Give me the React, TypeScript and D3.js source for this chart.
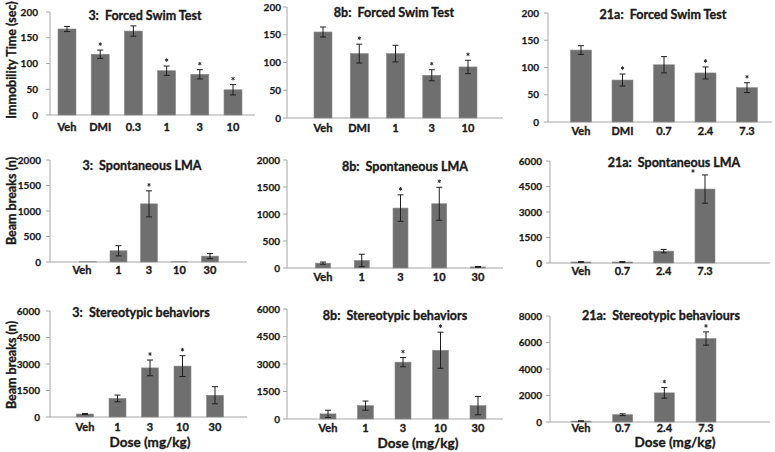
import React from "react";
import * as d3 from "d3";

// ---------- DATA ----------
const fst3Cats = ["Veh", "DMI", "0.3", "1", "3", "10"];
const fst3Vals = [167, 118, 163, 86, 79, 49];
const fst3Errs = [5, 8, 10, 9, 9, 10];
const fst3Stars = [false, true, false, true, true, true];
const fst3Ticks = [0, 50, 100, 150, 200];

const fst8bCats = ["Veh", "DMI", "1", "3", "10"];
const fst8bVals = [155, 116, 116, 77, 92];
const fst8bErrs = [9, 17, 15, 10, 12];
const fst8bStars = [false, true, false, true, true];
const fst8bTicks = [0, 50, 100, 150, 200];

const fst21aCats = ["Veh", "DMI", "0.7", "2.4", "7.3"];
const fst21aVals = [132, 77, 105, 90, 63];
const fst21aErrs = [8, 11, 15, 11, 9];
const fst21aStars = [false, true, false, true, true];
const fst21aTicks = [0, 50, 100, 150, 200];

const lma3Cats = ["Veh", "1", "3", "10", "30"];
const lma3Vals = [5, 220, 1140, 5, 115];
const lma3Errs = [0, 100, 255, 0, 50];
const lma3Stars = [false, false, true, false, false];
const lma3Ticks = [0, 500, 1000, 1500, 2000];

const lma8bCats = ["Veh", "1", "3", "10", "30"];
const lma8bVals = [90, 140, 1110, 1190, 20];
const lma8bErrs = [20, 115, 245, 305, 8];
const lma8bStars = [false, false, true, true, false];
const lma8bTicks = [0, 500, 1000, 1500, 2000];

const lma21aCats = ["Veh", "0.7", "2.4", "7.3"];
const lma21aVals = [60, 60, 700, 4350];
const lma21aErrs = [20, 20, 100, 830];
const lma21aStars = [false, false, false, true];
const lma21aTicks = [0, 1500, 3000, 4500, 6000];

const st3Cats = ["Veh", "1", "3", "10", "30"];
const st3Vals = [170, 1050, 2780, 2880, 1230];
const st3Errs = [30, 190, 445, 590, 485];
const st3Stars = [false, false, true, true, false];
const st3Ticks = [0, 1500, 3000, 4500, 6000];

const st8bCats = ["Veh", "1", "3", "10", "30"];
const st8bVals = [280, 730, 3100, 3750, 730];
const st8bErrs = [200, 250, 250, 985, 500];
const st8bStars = [false, false, true, true, false];
const st8bTicks = [0, 1500, 3000, 4500, 6000];

const st21aCats = ["Veh", "0.7", "2.4", "7.3"];
const st21aVals = [70, 550, 2200, 6300];
const st21aErrs = [20, 70, 400, 500];
const st21aStars = [false, false, true, true];
const st21aTicks = [0, 2000, 4000, 6000, 8000];

const titles = [
  "3:  Forced Swim Test",
  "8b:  Forced Swim Test",
  "21a:  Forced Swim Test",
  "3:  Spontaneous LMA",
  "8b:  Spontaneous LMA",
  "21a:  Spontaneous LMA",
  "3:  Stereotypic behaviors",
  "8b:  Stereotypic behaviors",
  "21a:  Stereotypic behaviours",
];
const yTitles = ["Immobility Time (sec)", "Beam breaks (n)", "Beam breaks (n)"];
const xTitle = "Dose (mg/kg)";

const series = [
  { cats: fst3Cats, vals: fst3Vals, errs: fst3Errs, stars: fst3Stars, ticks: fst3Ticks },
  { cats: fst8bCats, vals: fst8bVals, errs: fst8bErrs, stars: fst8bStars, ticks: fst8bTicks },
  { cats: fst21aCats, vals: fst21aVals, errs: fst21aErrs, stars: fst21aStars, ticks: fst21aTicks },
  { cats: lma3Cats, vals: lma3Vals, errs: lma3Errs, stars: lma3Stars, ticks: lma3Ticks },
  { cats: lma8bCats, vals: lma8bVals, errs: lma8bErrs, stars: lma8bStars, ticks: lma8bTicks },
  { cats: lma21aCats, vals: lma21aVals, errs: lma21aErrs, stars: lma21aStars, ticks: lma21aTicks },
  { cats: st3Cats, vals: st3Vals, errs: st3Errs, stars: st3Stars, ticks: st3Ticks },
  { cats: st8bCats, vals: st8bVals, errs: st8bErrs, stars: st8bStars, ticks: st8bTicks },
  { cats: st21aCats, vals: st21aVals, errs: st21aErrs, stars: st21aStars, ticks: st21aTicks },
];

// ---------- LAYOUT ----------
// ax: y-axis x, xr: x-axis right end, yt/yb: top/bottom of y range,
// c0/c1: first/last category centre, bw: bar width, tg: tick label gap,
// ld: x label baseline offset, tx/ty: title centre/baseline, sdx/sdy: last star offset,
// vdx: first label shift
const layouts = [
  { ax: 50, xr: 255, yt: 12, yb: 115, c0: 67, c1: 233, bw: 18, tg: 12, ld: 16, tx: 145, ty: 20, sdx: 0, sdy: 0, vdx: 0 },
  { ax: 287, xr: 503, yt: 7, yb: 118, c0: 323, c1: 468, bw: 18, tg: 6, ld: 14, tx: 394, ty: 17, sdx: 0, sdy: 0, vdx: 0 },
  { ax: 548, xr: 772, yt: 13, yb: 122, c0: 581, c1: 747, bw: 21, tg: 9, ld: 13, tx: 663, ty: 19, sdx: 0, sdy: 0, vdx: 0 },
  { ax: 50, xr: 247, yt: 160, yb: 262, c0: 88, c1: 210, bw: 17, tg: 9, ld: 12, tx: 142, ty: 170, sdx: 0, sdy: 0, vdx: -6 },
  { ax: 287, xr: 503, yt: 160, yb: 268, c0: 323, c1: 478, bw: 15, tg: 7, ld: 13, tx: 405, ty: 171, sdx: 0, sdy: 0, vdx: 0 },
  { ax: 550, xr: 770, yt: 161, yb: 263, c0: 581, c1: 705, bw: 20, tg: 8, ld: 12, tx: 674, ty: 167, sdx: -12, sdy: 2, vdx: 0 },
  { ax: 50, xr: 247, yt: 311, yb: 417, c0: 85, c1: 215, bw: 17, tg: 10, ld: 14, tx: 141, ty: 317, sdx: 0, sdy: 0, vdx: 0 },
  { ax: 287, xr: 503, yt: 309, yb: 419, c0: 328, c1: 478, bw: 16, tg: 7, ld: 13, tx: 395, ty: 320, sdx: 0, sdy: 0, vdx: 0 },
  { ax: 550, xr: 770, yt: 316, yb: 422, c0: 581, c1: 706, bw: 20, tg: 8, ld: 10, tx: 661, ty: 320, sdx: 0, sdy: 0, vdx: 0 },
];
const yTitlePos = [
  { x: 16, y: 60 },
  { x: 16, y: 201 },
  { x: 16, y: 365 },
];
const xTitlePos = [
  { x: 150, y: 447 },
  { x: 418, y: 448 },
  { x: 675, y: 447 },
];

const FONT = "Lato, 'Open Sans', sans-serif";
const BAR = "#6f6f6f";
const AXIS = "#a6a6a6";
const TXT = "#1a1a1a";
const heavy = { stroke: TXT, strokeWidth: 0.35, whiteSpace: "pre" as const };
const starPath = d3.symbol(d3.symbolAsterisk, 9)() as string;

function Panel({ s, l, title }: any) {
  const y = d3.scaleLinear().domain([0, d3.max(s.ticks) as number]).range([l.yb, l.yt]);
  const x = d3.scalePoint<string>().domain(s.cats).range([l.c0, l.c1]);
  return (
    <g>
      <line x1={l.ax} x2={l.ax} y1={l.yt} y2={l.yb} stroke={AXIS} strokeWidth={1} />
      <line x1={l.ax} x2={l.xr} y1={l.yb} y2={l.yb} stroke={AXIS} strokeWidth={1} />
      {s.ticks.map((t: number) => (
        <g key={t}>
          <line x1={l.ax - 4} x2={l.ax} y1={y(t)} y2={y(t)} stroke={AXIS} />
          <text x={l.ax - l.tg} y={y(t)} dy="0.35em" textAnchor="end" fontSize={10} fontWeight="bold" fill={TXT} fontFamily={FONT} style={{ stroke: TXT, strokeWidth: 0.25 }}>
            {t}
          </text>
        </g>
      ))}
      {s.cats.map((c: string, i: number) => {
        const cx = x(c) as number;
        const v = s.vals[i];
        const e = s.errs[i];
        const top = y(v + e);
        const last = i === s.cats.length - 1;
        return (
          <g key={c}>
            <rect x={cx - l.bw / 2} y={y(v)} width={l.bw} height={l.yb - y(v)} fill={BAR} stroke="#8c8c8c" strokeWidth={0.6} />
            {e > 0 && (
              <g stroke="#1e1e1e" strokeWidth={1}>
                <line x1={cx} x2={cx} y1={y(v - e)} y2={top} />
                <line x1={cx - 3} x2={cx + 3} y1={top} y2={top} />
                <line x1={cx - 3} x2={cx + 3} y1={y(v - e)} y2={y(v - e)} />
              </g>
            )}
            {s.stars[i] && (
              <path
                d={starPath}
                transform={`translate(${cx + (last ? l.sdx : 0)},${top - 6 + (last ? l.sdy : 0)})`}
                fill="none"
                stroke="#333"
                strokeWidth={1}
              />
            )}
            <text x={cx + (i === 0 ? l.vdx : 0)} y={l.yb + l.ld} textAnchor="middle" fontSize={11} fontWeight="bold" fill={TXT} fontFamily={FONT} style={heavy}>
              {c}
            </text>
          </g>
        );
      })}
      <text x={l.tx} y={l.ty} textAnchor="middle" fontSize={12.5} fontWeight="bold" fill={TXT} fontFamily={FONT} style={heavy}>
        {title}
      </text>
    </g>
  );
}

export default function App() {
  return (
    <svg width={775} height={452} style={{ position: "absolute", left: 0, top: 0, background: "#fff" }}>
      <rect width={775} height={452} fill="#fff" />
      {series.map((s, i) => (
        <Panel key={i} s={s} l={layouts[i]} title={titles[i]} />
      ))}
      {yTitles.map((t, i) => (
        <text
          key={i}
          transform={`translate(${yTitlePos[i].x},${yTitlePos[i].y}) rotate(-90)`}
          textAnchor="middle"
          fontSize={12.5}
          fontWeight="bold"
          fill={TXT}
          fontFamily={FONT}
          style={heavy}
        >
          {t}
        </text>
      ))}
      {xTitlePos.map((p, i) => (
        <text key={i} x={p.x} y={p.y} textAnchor="middle" fontSize={13.5} fontWeight="bold" fill={TXT} fontFamily={FONT} style={heavy}>
          {xTitle}
        </text>
      ))}
    </svg>
  );
}
